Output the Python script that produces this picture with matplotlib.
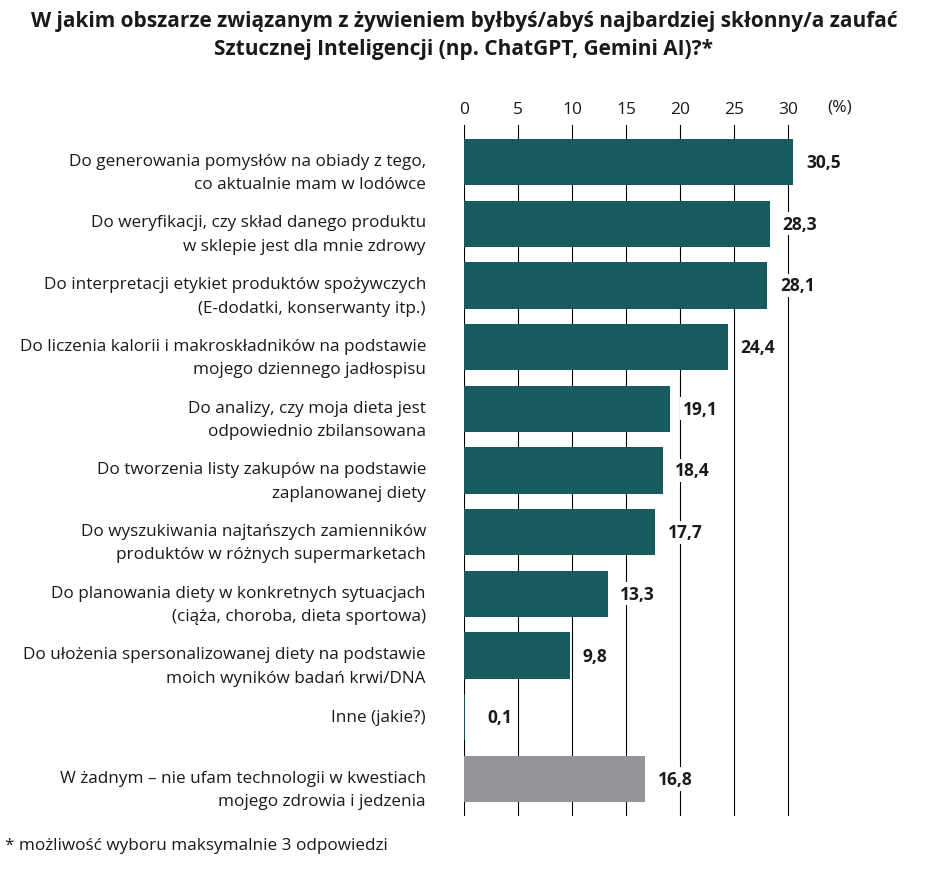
import numpy as np
import matplotlib.pyplot as plt
import matplotlib.transforms as mtransforms

plt.rcParams['font.family'] = ['Open Sans', 'DejaVu Sans']

labels = [
    "Do generowania pomysłów na obiady z tego,\nco aktualnie mam w lodówce",
    "Do weryfikacji, czy skład danego produktu\nw sklepie jest dla mnie zdrowy",
    "Do interpretacji etykiet produktów spożywczych\n(E-dodatki, konserwanty itp.)",
    "Do liczenia kalorii i makroskładników na podstawie\nmojego dziennego jadłospisu",
    "Do analizy, czy moja dieta jest\nodpowiednio zbilansowana",
    "Do tworzenia listy zakupów na podstawie\nzaplanowanej diety",
    "Do wyszukiwania najtańszych zamienników\nproduktów w różnych supermarketach",
    "Do planowania diety w konkretnych sytuacjach\n(ciąża, choroba, dieta sportowa)",
    "Do ułożenia spersonalizowanej diety na podstawie\nmoich wyników badań krwi/DNA",
    "Inne (jakie?)",
    "W żadnym – nie ufam technologii w kwestiach\nmojego zdrowia i jedzenia",
]
values = [30.5, 28.3, 28.1, 24.4, 19.1, 18.4, 17.7, 13.3, 9.8, 0.1, 16.8]
ticks = [0, 5, 10, 15, 20, 25, 30]

teal = "#175a60"
grey = "#939598"
txt = "#1a1a1a"
colors = [teal] * 10 + [grey]

fig = plt.figure(figsize=(9.28, 8.70), dpi=100)
# axes: x from 464 px (0) with 10.8 px per unit, y from 126 px to 817 px
xmax = 32
left = 464 / 928
width = xmax * 10.8 / 928
bottom = 1 - 817 / 870
height = (817 - 126) / 870
ax = fig.add_axes([left, bottom, width, height])

y = np.arange(len(values))
ax.barh(y, values, height=0.75, color=colors, zorder=2)
ax.set_ylim(len(values) - 1 + 0.6, -0.6)
ax.set_xlim(0, xmax)

for t in ticks:
    ax.axvline(t, color="black", lw=0.8, zorder=1)

ax.xaxis.tick_top()
ax.set_xticks(ticks)
ax.set_xticklabels([str(t) for t in ticks], fontsize=12.5, color=txt)
ax.tick_params(axis="x", length=0, pad=6)
ax.set_yticks([])
for s in ax.spines.values():
    s.set_visible(False)

# category labels, right aligned left of the axis
trans = mtransforms.blended_transform_factory(ax.transAxes, ax.transData)
lab_off = mtransforms.ScaledTranslation(-38 / 100, 0, fig.dpi_scale_trans)
for yi, lab in zip(y, labels):
    dy = 0.17 if "\n" in lab else 0.0
    ax.text(0, yi + dy, lab, transform=trans + lab_off, ha="right", va="center",
            fontsize=12.3, color=txt, linespacing=1.62)

ax.text(840 / 928, 1 - 108 / 870, "(%)", transform=fig.transFigure,
        fontsize=12.5, color=txt, ha="center", va="center")

for yi, v in zip(y, values):
    ax.annotate(f"{v:.1f}".replace(".", ","), (v, yi), xytext=(9 if v > 1 else 16, 0),
                textcoords="offset points", va="center", ha="left",
                fontsize=12.5, fontweight="bold", color=txt, zorder=3,
                bbox=dict(boxstyle="square,pad=0.15", fc="white", ec="none"))

fig.text(0.5, 1 - 11 / 870, "W jakim obszarze związanym z żywieniem byłbyś/abyś najbardziej skłonny/a zaufać\nSztucznej Inteligencji (np. ChatGPT, Gemini AI)?*",
         ha="center", va="top", fontsize=15, fontweight="bold", color=txt, linespacing=1.45)
fig.text(5 / 928, 1 - 846 / 870, "* możliwość wyboru maksymalnie 3 odpowiedzi",
         ha="left", va="center", fontsize=12.3, color=txt)

fig.savefig("out.png", dpi=100)
